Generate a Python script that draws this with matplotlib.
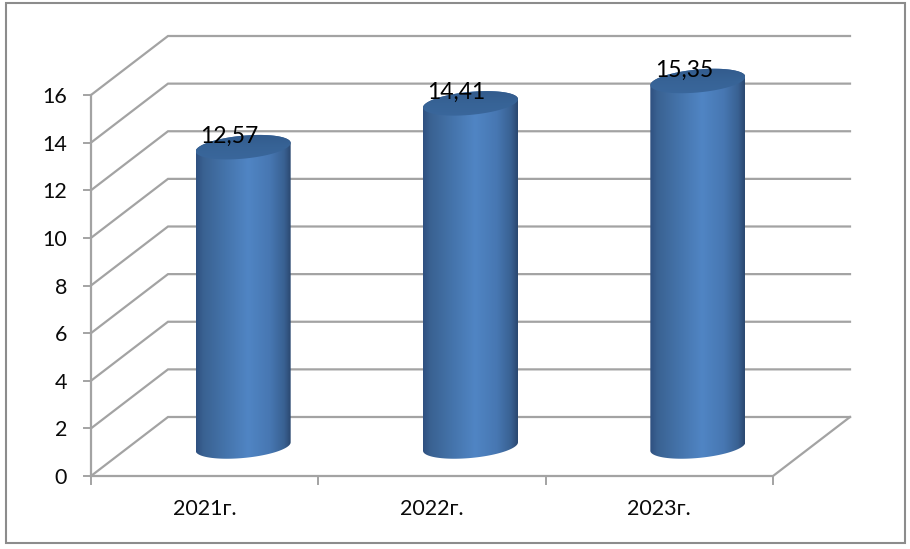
import matplotlib.pyplot as plt
import numpy as np
from matplotlib.colors import LinearSegmentedColormap
from matplotlib.patches import Polygon, Rectangle

years = ['2021г.', '2022г.', '2023г.']
values = [12.57, 14.41, 15.35]
value_labels = ['12,57', '14,41', '15,35']
y_ticks = [0, 2, 4, 6, 8, 10, 12, 14, 16]

W, H = 910, 549
# front plane of the 3d box, in pixels
left, right, top, bottom = 91, 773, 95, 476
depth_x = 77 / (right - left) * 3
depth_y = 59 / (bottom - top) * 16

plt.rcParams['font.family'] = ['Lato', 'DejaVu Sans']
grid_color = '#a3a3a3'

fig = plt.figure(figsize=(W / 100, H / 100), dpi=100)
ax = fig.add_axes([left / W, 1 - bottom / H, (right - left) / W, (bottom - top) / H])
ax.set_xlim(0, 3)
ax.set_ylim(0, 16)
ax.axis('off')

# outer frame
fig.add_artist(Rectangle((5.5 / W, 1 - 543 / H), 899.5 / W, 540 / H, transform=fig.transFigure,
                         fill=False, edgecolor='#8c8c8c', linewidth=1.5))

# gridlines: side wall and back wall
for t in y_ticks:
    ax.plot([0, depth_x, 3 + depth_x], [t, t + depth_y, t + depth_y], color=grid_color,
            linewidth=1.6, clip_on=False, zorder=1, solid_joinstyle='miter')

# floor front edge and right edge, left axis
ax.plot([0, 3, 3 + depth_x], [0, 0, depth_y], color=grid_color, linewidth=1.6, clip_on=False, zorder=1)
ax.plot([0, 0], [0, 16], color=grid_color, linewidth=1.6, clip_on=False, zorder=1)

# tick marks and labels
px_x = 3 / (right - left)
px_y = 16 / (bottom - top)
for t in y_ticks:
    ax.plot([-7 * px_x, 0], [t, t], color=grid_color, linewidth=1.4, clip_on=False, zorder=1)
    ax.text(-24 * px_x, t - 2 * px_y, str(t), ha='right', va='center', fontsize=15.5, color='#0a0a0a')
for i in range(4):
    ax.plot([i, i], [0, -8 * px_y], color=grid_color, linewidth=1.4, clip_on=False, zorder=1)
for i, year in enumerate(years):
    ax.text(i + 0.5, -33 * px_y, year, ha='center', va='center', fontsize=15.5, color='#0a0a0a')

# cylinder shading, left to right
side_cmap = LinearSegmentedColormap.from_list('side', [
    (0.0, '#2f5080'), (0.08, '#3a6292'), (0.3, '#4473aa'), (0.55, '#5085c4'),
    (0.78, '#4777b2'), (0.93, '#396192'), (1.0, '#2b4870')])
cap_cmap = LinearSegmentedColormap.from_list('cap', ['#3c6aa0', '#376396', '#2f5484'])
gradient = np.linspace(0, 1, 256).reshape(1, -1)

rx = 47.5 * px_x
ry = 11.5 * px_y
tilt = 4.2 * px_y  # right side of the ellipse sits higher than the left


def ellipse(cx, cy, a, b):
    ang = np.radians(np.linspace(a, b, 80))
    return cx + rx * np.cos(ang), cy + ry * np.sin(ang) + tilt * np.cos(ang)


for i, v in enumerate(values):
    cx = i + 0.5 + depth_x / 2
    base = depth_y / 2
    top_y = v + depth_y / 2
    # body outline: lower half of bottom ellipse, up to the top ellipse
    bx, by = ellipse(cx, base, 180, 360)
    tx, ty = ellipse(cx, top_y, 0, 180)
    body = Polygon(np.column_stack([np.r_[bx, tx], np.r_[by, ty]]), closed=True, transform=ax.transData,
                   facecolor='none', edgecolor='none', clip_on=False)
    ax.add_patch(body)
    im = ax.imshow(gradient, extent=[cx - rx, cx + rx, base - 2 * ry, top_y + 2 * ry], cmap=side_cmap,
                   aspect='auto', zorder=3, interpolation='bilinear')
    im.set_clip_box(fig.bbox)
    im.set_clip_path(body)

    # top cap
    cap_x, cap_y = ellipse(cx, top_y, 0, 360)
    cap = Polygon(np.column_stack([cap_x, cap_y]), closed=True, transform=ax.transData,
                  facecolor='none', edgecolor='none', clip_on=False)
    ax.add_patch(cap)
    im2 = ax.imshow(gradient.T[::-1], extent=[cx - rx, cx + rx, top_y - 2 * ry, top_y + 2 * ry], cmap=cap_cmap,
                    aspect='auto', zorder=4, interpolation='bilinear')
    im2.set_clip_box(fig.bbox)
    im2.set_clip_path(cap)

    ax.text(cx - 14 * px_x, top_y + 11 * px_y, value_labels[i], ha='center', va='center', fontsize=16.5,
            color='#000000', zorder=5)

ax.set_xlim(0, 3)
ax.set_ylim(0, 16)

fig.savefig('out.png', dpi=100)
